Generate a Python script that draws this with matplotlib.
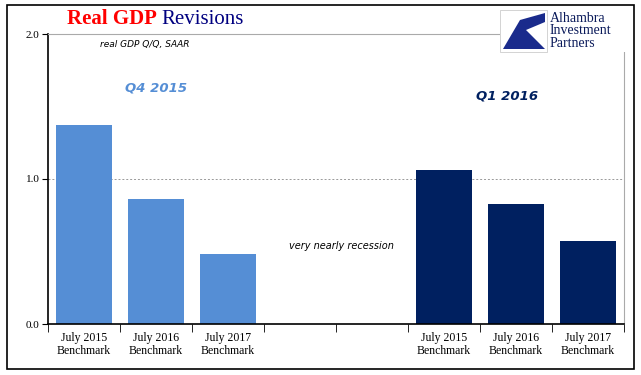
"""Real GDP revisions bar chart (Q4 2015 vs Q1 2016 benchmark revisions)."""

import matplotlib.pyplot as plt
from matplotlib.patches import Polygon, Rectangle

categories = [
    "July 2015\nBenchmark", "July 2016\nBenchmark", "July 2017\nBenchmark", "", "",
    "July 2015\nBenchmark", "July 2016\nBenchmark", "July 2017\nBenchmark",
]
q4_2015 = [1.37, 0.86, 0.48]
q1_2016 = [1.06, 0.83, 0.57]
q4_pos = [0, 1, 2]
q1_pos = [5, 6, 7]
y_ticks = [0.0, 1.0, 2.0]

LIGHT = "#558ED5"
NAVY = "#002060"
SERIF = "Liberation Serif"

W, H = 641, 375
fig = plt.figure(figsize=(W / 100, H / 100), dpi=100)
ax = fig.add_axes([48 / W, 1 - 324 / H, (624 - 48) / W, (324 - 34) / H])

ax.bar(q4_pos, q4_2015, width=0.78, color=LIGHT, zorder=2)
ax.bar(q1_pos, q1_2016, width=0.78, color=NAVY, zorder=2)

ax.set_xlim(-0.5, len(categories) - 0.5)
ax.set_ylim(0, 2.0)
ax.set_yticks(y_ticks)
ax.set_yticklabels([f"{v:.1f}" for v in y_ticks], fontfamily=SERIF, fontsize=8)
ax.set_xticks([i for i in range(len(categories))])
ax.set_xticklabels(categories, fontfamily=SERIF, fontsize=8.5, linespacing=1.05)
ax.tick_params(axis="x", length=0, pad=6)
ax.set_xticks([i - 0.5 for i in range(len(categories) + 1)], minor=True)
ax.tick_params(axis="x", which="minor", length=6, color="black")
ax.tick_params(axis="y", length=4, direction="out", pad=2)

ax.axhline(1.0, color="#999999", linestyle=(0, (2, 2)), linewidth=0.7, zorder=1)
ax.spines["top"].set_color("#aaaaaa")
ax.spines["right"].set_color("#aaaaaa")
ax.spines["left"].set_linewidth(1.2)
ax.spines["bottom"].set_linewidth(1.2)

ax.text(0.09, 0.965, "real GDP Q/Q, SAAR", transform=ax.transAxes, fontsize=6.5,
        style="italic", ha="left", va="center")
ax.text(0.1875, 0.814, "Q4 2015", transform=ax.transAxes, fontsize=9.5,
        style="italic", weight="bold", color=LIGHT, ha="center", va="center")
ax.text(0.797, 0.786, "Q1 2016", transform=ax.transAxes, fontsize=9.5,
        style="italic", weight="bold", color=NAVY, ha="center", va="center")
ax.text(0.509, 0.27, "very nearly recession", transform=ax.transAxes, fontsize=7,
        style="italic", ha="center", va="center")

# title
t1 = fig.text(67 / W, 1 - 19 / H, "Real GDP ", fontfamily=SERIF, fontsize=15,
              weight="bold", color="#ff0000", va="center")
fig.canvas.draw()
bb = t1.get_window_extent()
fig.text(bb.x1 / W, 1 - 19 / H, "Revisions", fontfamily=SERIF, fontsize=15,
         color="#000080", va="center")

# logo block (white panel hides the spines behind it)
fig.patches.append(Rectangle((500 / W, 1 - 52 / H), 132 / W, 44 / H,
                             transform=fig.transFigure, facecolor="white",
                             edgecolor="none", zorder=3))
fig.patches.append(Rectangle((500 / W, 1 - 52 / H), 47 / W, 42 / H,
                             transform=fig.transFigure, facecolor="white",
                             edgecolor="#cccccc", linewidth=0.6, zorder=4))
fig.patches.append(Polygon([(503 / W, 1 - 49 / H), (520 / W, 1 - 20 / H),
                            (545 / W, 1 - 13 / H), (545 / W, 1 - 22 / H),
                            (526 / W, 1 - 30 / H), (545 / W, 1 - 49 / H)],
                           closed=True, transform=fig.transFigure,
                           facecolor="#1a2b8c", edgecolor="none", zorder=5))
fig.text(550 / W, 1 - 31 / H, "Alhambra\nInvestment\nPartners", fontfamily=SERIF,
         fontsize=10, color="#0a1a5a", va="center", ha="left", linespacing=0.95,
         zorder=6)

# outer frame
fig.patches.append(Rectangle((7 / W, 1 - 369 / H), 627 / W, 364 / H,
                             transform=fig.transFigure, fill=False,
                             edgecolor="black", linewidth=1.2))

fig.savefig("out.png", dpi=100)
